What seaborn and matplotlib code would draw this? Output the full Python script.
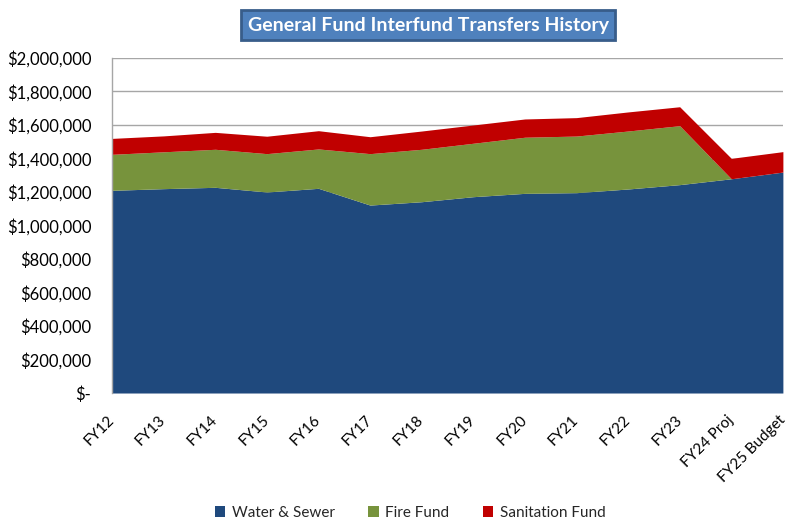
import matplotlib
matplotlib.use("Agg")
import matplotlib.pyplot as plt
from matplotlib.patches import Patch
from matplotlib.ticker import FuncFormatter
import seaborn as sns
import pandas as pd

# ------------------------------------------------------------
# Data
# ------------------------------------------------------------
years = ["FY12", "FY13", "FY14", "FY15", "FY16", "FY17", "FY18",
         "FY19", "FY20", "FY21", "FY22", "FY23", "FY24 Proj", "FY25 Budget"]

water_sewer = [1210000, 1220000, 1228000, 1200000, 1222000, 1122000, 1142000,
               1172000, 1192000, 1196000, 1218000, 1244000, 1279000, 1319000]
fire_fund = [215000, 220000, 227000, 229000, 235000, 307000, 313000,
             319000, 335000, 338000, 346000, 352000, 0, 0]
sanitation_fund = [95000, 95000, 101000, 104000, 109000, 101000, 109000,
                   109000, 109000, 110000, 114000, 113000, 122000, 122000]

series_names = ["Water & Sewer", "Fire Fund", "Sanitation Fund"]
colors = ["#1F497D", "#77933C", "#C00000"]

df = pd.DataFrame({
    "year": years,
    "Water & Sewer": water_sewer,
    "Fire Fund": fire_fund,
    "Sanitation Fund": sanitation_fund,
})

# ------------------------------------------------------------
# Style
# ------------------------------------------------------------
sns.set_theme(style="white")
plt.rcParams["font.family"] = ["Lato", "DejaVu Sans"]


def money(v, pos):
    if v == 0:
        return "$-"
    return "${:,.0f}".format(v)


fig = plt.figure(figsize=(7.9, 5.22), dpi=100)
ax = fig.add_axes([0.1418, 0.2471, 0.8492, 0.6418])

x = list(range(len(years)))
ax.stackplot(x, [df[s] for s in series_names], colors=colors,
             linewidth=0, zorder=2)

ax.set_xlim(0, len(years) - 1)
ax.set_ylim(0, 2000000)
ax.set_yticks(range(0, 2000001, 200000))
ax.yaxis.set_major_formatter(FuncFormatter(money))
ax.grid(axis="y", color="#A6A6A6", linewidth=1, zorder=1)
ax.grid(axis="x", visible=False)

ax.set_xticks(x)
ax.set_xticklabels(years, rotation=45, ha="right", va="center",
                   rotation_mode="anchor")
ax.tick_params(axis="x", labelsize=11, pad=18, length=0)
ax.tick_params(axis="y", labelsize=12, pad=15, length=0)
for lab in ax.get_yticklabels() + ax.get_xticklabels():
    lab.set_color("#000000")

for side in ["top", "right", "bottom"]:
    ax.spines[side].set_visible(False)
ax.spines["left"].set_color("#A6A6A6")
ax.spines["left"].set_linewidth(1)

# Title box
fig.text(0.542, 0.952, "General Fund Interfund Transfers History",
         ha="center", va="center", color="white", fontsize=14,
         fontweight="bold",
         bbox=dict(boxstyle="square,pad=0.35", facecolor="#4F81BD",
                   edgecolor="#385D8A", linewidth=2))

# Legend
handles = [Patch(facecolor=c, edgecolor="none", label=n)
           for n, c in zip(series_names, colors)]
fig.legend(handles=handles, loc="center", bbox_to_anchor=(0.519, 0.017),
           ncol=3, frameon=False, fontsize=11, handlelength=0.7,
           handleheight=0.7, handletextpad=0.4, columnspacing=2.2)

fig.savefig("out.png", dpi=100)
